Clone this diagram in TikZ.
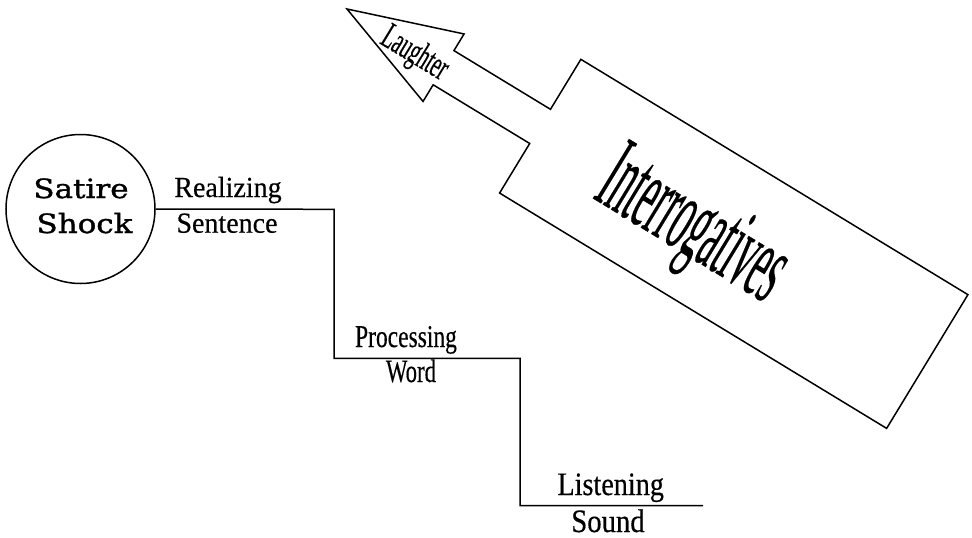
\documentclass[tikz,border=0pt]{standalone}
\usepackage{fontspec}
\setmainfont[FakeBold=0.4]{Liberation Serif}
\newfontfamily\roundfont[FakeBold=1.2]{DejaVu Serif}
\usepackage{graphicx}

\tikzset{
  outline/.style={line width=1.5pt, line join=miter},
  lbl/.style={anchor=base, inner sep=0pt},
}
% stretched serif text: size, vertical factor, text
\newcommand{\tallword}[3]{\fontsize{#1}{#1}\selectfont\scalebox{1}[#2]{#3}}

\begin{document}
\begin{tikzpicture}[x=1pt, y=-1pt]
  \useasboundingbox (0,0) rectangle (972,538);

  % circle with its two words
  \node[circle, draw, outline, minimum size=149pt, inner sep=0pt] (satire) at (80.5,209) {};
  \node[lbl] (satireA) at (81,198) {\roundfont\fontsize{26.5}{26.5}\selectfont\scalebox{1.17}[1]{Satire}};
  \node[lbl] (satireB) at (84.5,233) {\roundfont\fontsize{26.5}{26.5}\selectfont\scalebox{1.17}[1]{Shock}};

  % staircase
  \coordinate (s1) at (334,209.3);
  \coordinate (s2) at (334,358.3);
  \coordinate (s3) at (520,358.3);
  \coordinate (s4) at (520,505.7);
  \coordinate (s5) at (703,505.7);
  \draw[outline] (satire.east) -- (s1) -- (s2) -- (s3) -- (s4) -- (s5);

  % step labels
  \node[lbl] (realizing) at (228,197) {\tallword{28}{1.04}{Realizing}};
  \node[lbl] (sentence)  at (227,232.7) {\tallword{28}{1.04}{Sentence}};
  \node[lbl] (processing) at (406,347) {\tallword{23.5}{1.35}{Processing}};
  \node[lbl] (word)       at (411,382) {\tallword{22.8}{1.43}{Word}};
  \node[lbl] (listening)  at (610.7,495) {\tallword{28.2}{1.16}{Listening}};
  \node[lbl] (sound)      at (608,532) {\tallword{28.7}{1.14}{Sound}};

  % big tilted arrow
  \begin{scope}[shift={(347,9)}, rotate=-31.3]
    \draw[outline] (0,0) -- (113,-39.5) -- (113,-20) -- (226,-20) -- (226,-78.5)
      -- (679,-78.5) -- (679,78) -- (226,78) -- (226,20) -- (113,20) -- (113,39.5) -- cycle;
    \node[lbl, rotate=-31.3] (laughter) at (81,12.5) {\tallword{20}{1.85}{Laughter}};
    \node[lbl, rotate=-31.3] (interrog) at (408.5,34) {\tallword{36.5}{2.9}{Interrogatives}};
  \end{scope}
\end{tikzpicture}
\end{document}
